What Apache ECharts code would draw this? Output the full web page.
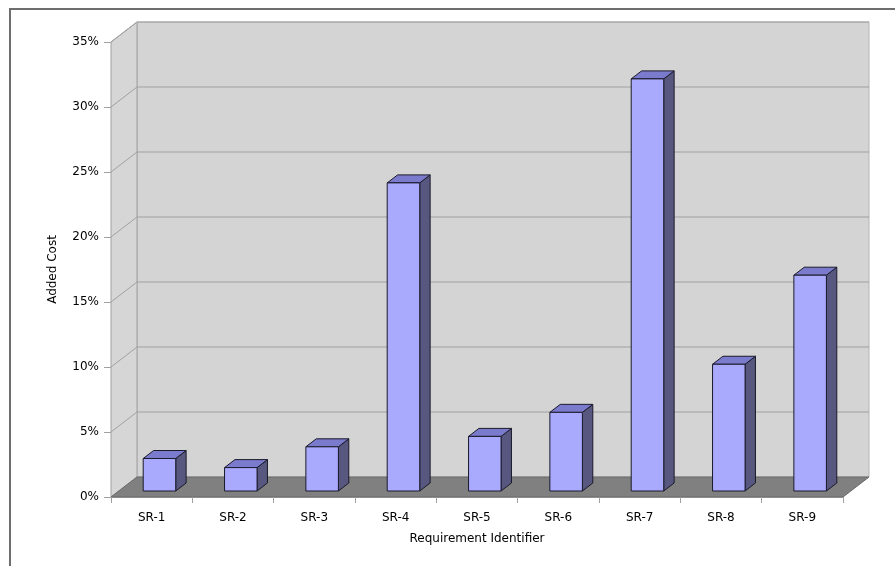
<!DOCTYPE html>
<html>
<head>
<meta charset="utf-8">
<script src="https://cdn.jsdelivr.net/npm/echarts@6/dist/echarts.min.js"></script>
<style>
  html, body { margin: 0; padding: 0; background: #ffffff; }
  #chart { width: 895px; height: 566px; }
</style>
</head>
<body>
<div id="chart"></div>
<script>
// Added cost per security requirement (percent)
const categories = ['SR-1', 'SR-2', 'SR-3', 'SR-4', 'SR-5', 'SR-6', 'SR-7', 'SR-8', 'SR-9'];
const addedCost = [2.5, 1.8, 3.4, 23.7, 4.2, 6.05, 31.7, 9.75, 16.6];
const yTicks = [0, 5, 10, 15, 20, 25, 30, 35];

// 3D look: full depth of the plot box and the part a bar occupies
const DEPTH_X = 26, DEPTH_Y = -20;
const BAR_FRONT = 0.3, BAR_DEPTH = 0.4, BAR_WIDTH = 0.4;

const FONT = 'DejaVu Sans';
const chart = echarts.init(document.getElementById('chart'), null, { renderer: 'canvas' });

function renderWalls(params, api) {
  const cs = params.coordSys;
  const x0 = cs.x, x1 = cs.x + cs.width;
  const yb = api.coord([0, yTicks[0]])[1];
  const yt = api.coord([0, yTicks[yTicks.length - 1]])[1];
  const children = [];
  // back wall
  children.push({
    type: 'polygon',
    shape: { points: [[x0 + DEPTH_X, yt + DEPTH_Y], [x1 + DEPTH_X, yt + DEPTH_Y], [x1 + DEPTH_X, yb + DEPTH_Y], [x0 + DEPTH_X, yb + DEPTH_Y]] },
    style: { fill: '#d4d4d4', stroke: '#b4b4b4', lineWidth: 1 }
  });
  // left wall
  children.push({
    type: 'polygon',
    shape: { points: [[x0, yt], [x0 + DEPTH_X, yt + DEPTH_Y], [x0 + DEPTH_X, yb + DEPTH_Y], [x0, yb]] },
    style: { fill: '#d6d6d6', stroke: '#a0a0a0', lineWidth: 1 }
  });
  // grid lines on both walls
  yTicks.forEach(function (v) {
    if (v === yTicks[0]) return;
    const y = api.coord([0, v])[1];
    children.push({
      type: 'polyline',
      shape: { points: [[x0, y], [x0 + DEPTH_X, y + DEPTH_Y], [x1 + DEPTH_X, y + DEPTH_Y]] },
      style: { fill: null, stroke: '#a0a0a0', lineWidth: 1 }
    });
  });
  // floor
  children.push({
    type: 'polygon',
    shape: { points: [[x0, yb], [x1, yb], [x1 + DEPTH_X, yb + DEPTH_Y], [x0 + DEPTH_X, yb + DEPTH_Y]] },
    style: { fill: '#808080', stroke: '#6a6a6a', lineWidth: 1 }
  });
  return { type: 'group', children: children };
}

function renderBar(params, api) {
  const idx = api.value(0);
  const base = api.coord([idx, 0]);
  const top = api.coord([idx, api.value(1)]);
  const w = api.size([1, 0])[0] * BAR_WIDTH;
  const ox = DEPTH_X * BAR_FRONT, oy = DEPTH_Y * BAR_FRONT;
  const bx = DEPTH_X * BAR_DEPTH, by = DEPTH_Y * BAR_DEPTH;
  const xl = base[0] - w / 2 + ox, xr = base[0] + w / 2 + ox;
  const yb = base[1] + oy, yt = top[1] + oy;
  const edge = { stroke: '#1a1a2a', lineWidth: 1, lineJoin: 'round' };
  return {
    type: 'group',
    children: [
      { type: 'polygon', shape: { points: [[xr, yt], [xr + bx, yt + by], [xr + bx, yb + by], [xr, yb]] },
        style: Object.assign({ fill: '#57577f' }, edge) },
      { type: 'polygon', shape: { points: [[xl, yt], [xr, yt], [xr + bx, yt + by], [xl + bx, yt + by]] },
        style: Object.assign({ fill: '#7b7bcd' }, edge) },
      { type: 'rect', shape: { x: xl, y: yt, width: xr - xl, height: yb - yt },
        style: Object.assign({ fill: '#a9a9fd' }, edge) }
    ]
  };
}

chart.setOption({
  animation: false,
  backgroundColor: '#ffffff',
  grid: { left: 111, right: 52, top: 42, bottom: 69, containLabel: false },
  graphic: [
    { type: 'polyline', z: 100, shape: { points: [[10, 566], [10, 9], [895, 9]] },
      style: { fill: null, stroke: '#6e6e6e', lineWidth: 2 } }
  ],
  xAxis: {
    type: 'category',
    data: categories,
    name: 'Requirement Identifier',
    nameLocation: 'middle',
    nameGap: 36,
    nameTextStyle: { fontFamily: FONT, fontSize: 12, color: '#000' },
    axisLine: { show: true, lineStyle: { color: '#8c8c8c', width: 1 } },
    axisTick: { show: true, length: 6, lineStyle: { color: '#a0a0a0' } },
    axisLabel: { margin: 15, fontFamily: FONT, fontSize: 12, color: '#000' },
    splitLine: { show: false },
    z: 5
  },
  yAxis: {
    type: 'value',
    min: 0,
    max: 35,
    interval: 5,
    name: 'Added Cost',
    nameLocation: 'middle',
    nameGap: 52,
    nameTextStyle: { fontFamily: FONT, fontSize: 12, color: '#000' },
    axisLine: { show: true, lineStyle: { color: '#a0a0a0', width: 1 } },
    axisTick: { show: true, length: 7, lineStyle: { color: '#a0a0a0' } },
    axisLabel: { margin: 12, fontFamily: FONT, fontSize: 12, color: '#000',
      formatter: function (v) { return v + '%'; } },
    splitLine: { show: false }
  },
  series: [
    {
      type: 'custom',
      name: 'walls',
      data: [[0, 0]],
      renderItem: renderWalls,
      silent: true,
      z: 1
    },
    {
      type: 'custom',
      name: 'Added Cost',
      data: addedCost.map(function (v, i) { return [i, v]; }),
      encode: { x: 0, y: 1 },
      renderItem: renderBar,
      z: 3
    }
  ]
});
</script>
</body>
</html>
